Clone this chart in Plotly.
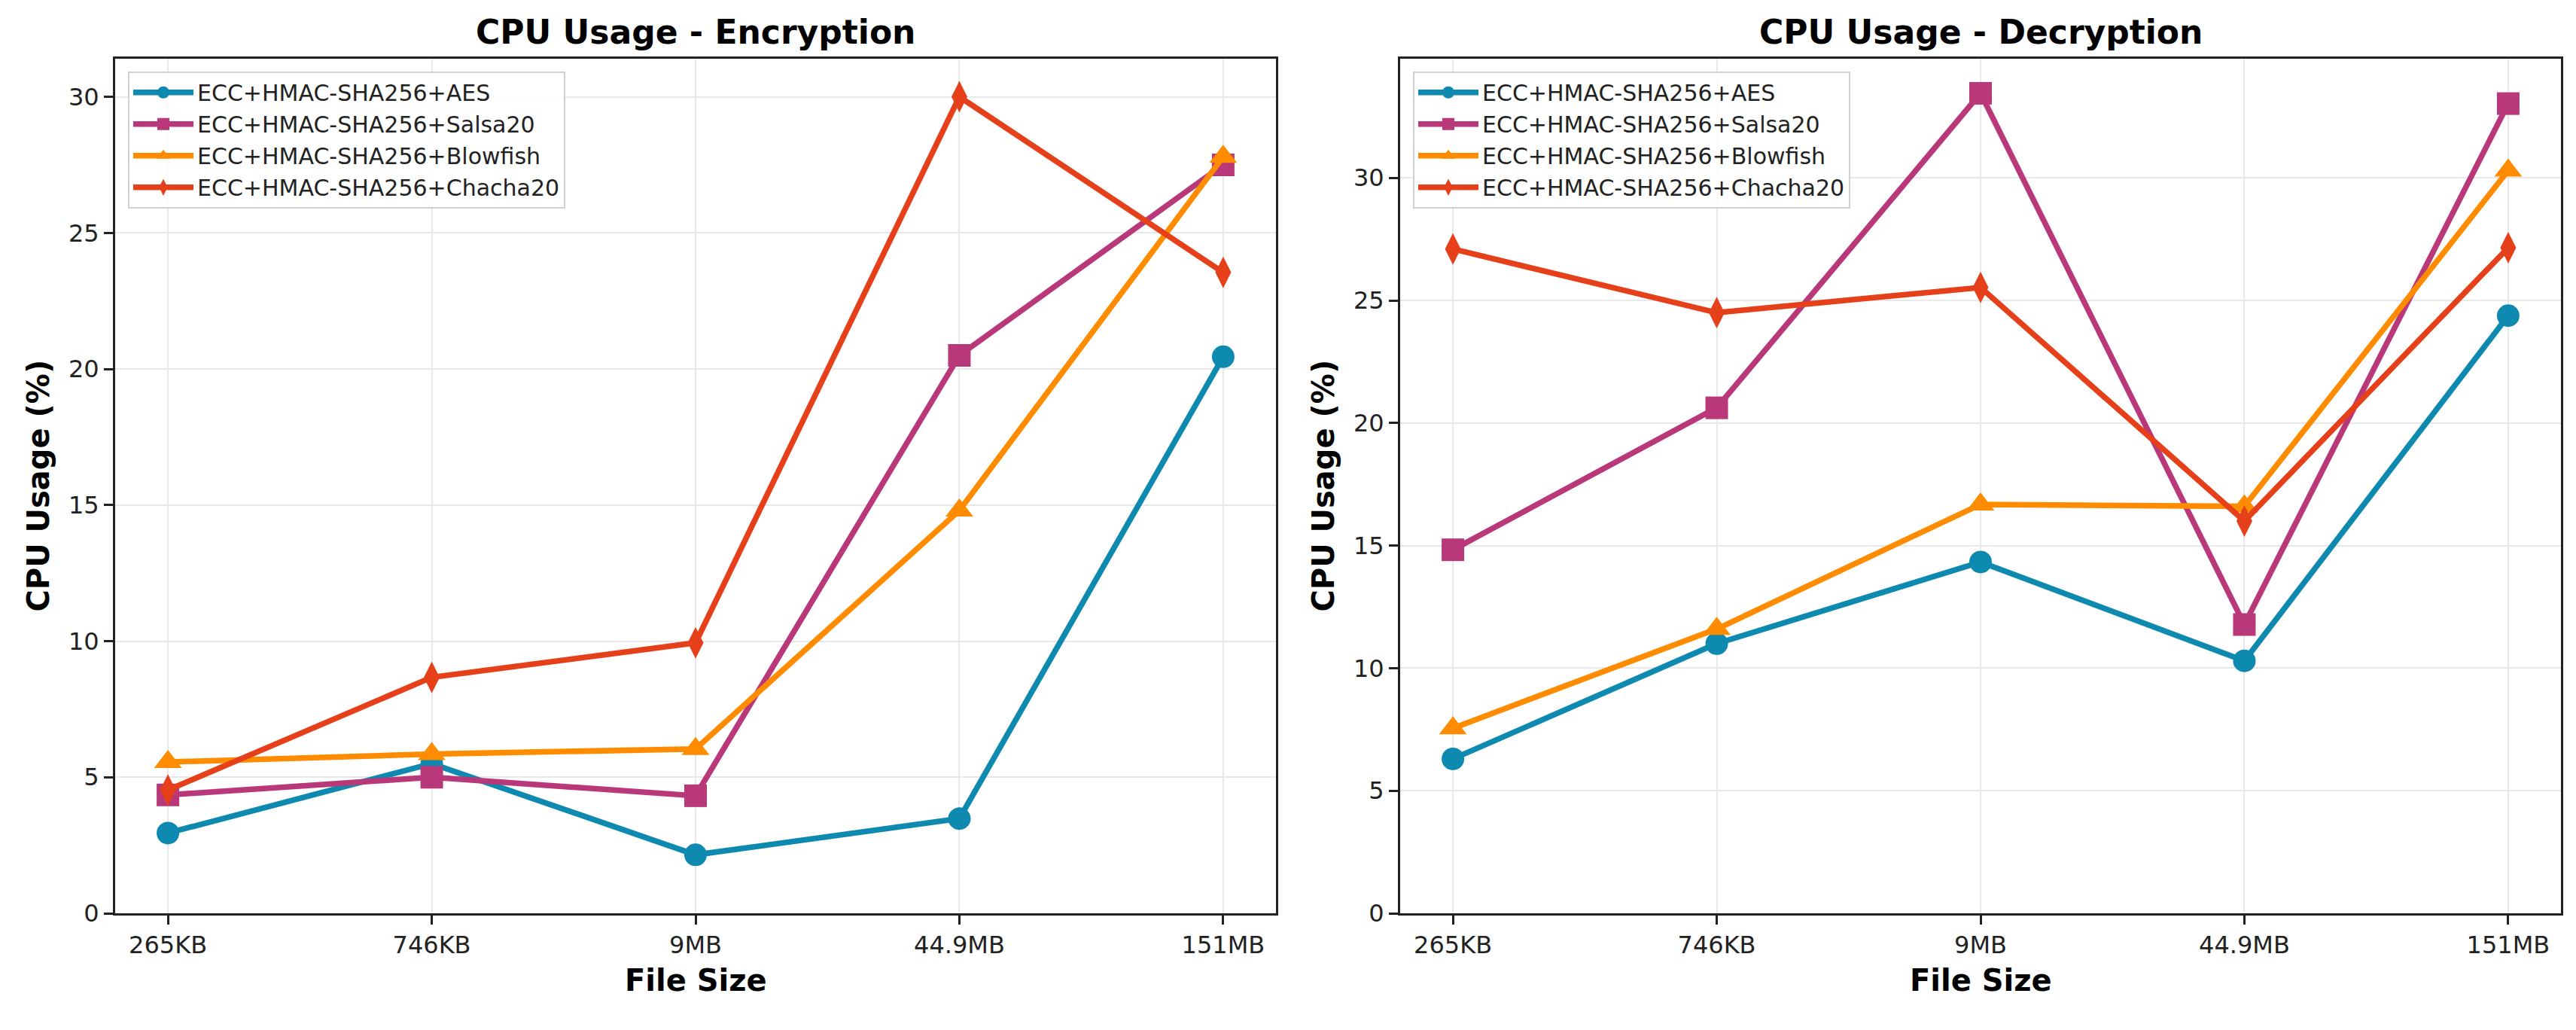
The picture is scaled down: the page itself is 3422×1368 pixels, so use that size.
import plotly.graph_objects as go
from plotly.subplots import make_subplots

W, H = 3422, 1368

file_sizes = ["265KB", "746KB", "9MB", "44.9MB", "151MB"]
methods = [
    "ECC+HMAC-SHA256+AES",
    "ECC+HMAC-SHA256+Salsa20",
    "ECC+HMAC-SHA256+Blowfish",
    "ECC+HMAC-SHA256+Chacha20",
]

# CPU usage (%)
enc_aes = [2.95, 5.5, 2.15, 3.48, 20.45]
enc_salsa = [4.35, 5.0, 4.32, 20.5, 27.5]
enc_blowfish = [5.56, 5.85, 6.04, 14.8, 27.8]
enc_chacha = [4.53, 8.67, 9.94, 30.0, 23.55]

dec_aes = [6.3, 11.0, 14.33, 10.3, 24.38]
dec_salsa = [14.83, 20.62, 33.45, 11.78, 33.03]
dec_blowfish = [7.55, 11.6, 16.68, 16.6, 30.3]
dec_chacha = [27.1, 24.5, 25.53, 16.0, 27.15]

colors = ["#0E89AF", "#B9387A", "#FF8C00", "#E5401A"]
symbols = ["circle", "square", "triangle-up", "diamond-tall"]
msizes = [30, 30, 32, 30]

FONT = "DejaVu Sans"

# pixel layout of the two plot areas
left_x = (145, 1687)
right_x = (1852, 3394)
top_y, bot_y = 71, 1222


def px_x(p):
    return p / W


def px_y(p):
    return 1 - p / H


fig = make_subplots(rows=1, cols=2)

panels = [
    (1, [enc_aes, enc_salsa, enc_blowfish, enc_chacha], "legend"),
    (2, [dec_aes, dec_salsa, dec_blowfish, dec_chacha], "legend2"),
]
for col, series, leg in panels:
    for i, vals in enumerate(series):
        fig.add_trace(
            go.Scatter(
                x=file_sizes,
                y=vals,
                name=methods[i],
                mode="lines+markers",
                line=dict(color=colors[i], width=7.5),
                marker=dict(symbol=symbols[i], size=msizes[i], color=colors[i]),
                legend=leg,
                hoverinfo="skip",
            ),
            row=1,
            col=col,
        )

axis_common = dict(
    showline=True,
    linecolor="#222222",
    linewidth=3,
    mirror=True,
    ticks="outside",
    ticklen=12,
    tickwidth=3,
    tickcolor="#222222",
    showgrid=True,
    gridcolor="#e8e8e8",
    gridwidth=2,
    zeroline=False,
    tickfont=dict(family=FONT, size=32, color="#222222"),
)

fig.update_xaxes(axis_common)
fig.update_yaxes(axis_common)
fig.update_xaxes(range=[-0.2, 4.2], domain=[px_x(left_x[0]), px_x(left_x[1])], row=1, col=1)
fig.update_xaxes(range=[-0.2, 4.2], domain=[px_x(right_x[0]), px_x(right_x[1])], row=1, col=2)
fig.update_yaxes(range=[0, 31.4], dtick=5, domain=[px_y(bot_y), px_y(top_y)], row=1, col=1)
fig.update_yaxes(range=[0, 34.86], dtick=5, domain=[px_y(bot_y), px_y(top_y)], row=1, col=2)

legend_common = dict(
    bgcolor="rgba(255,255,255,0.85)",
    bordercolor="#d0d0d0",
    borderwidth=2,
    font=dict(family=FONT, size=30, color="#222222"),
    xanchor="left",
    yanchor="top",
    itemwidth=80,
    tracegroupgap=0,
)

fig.update_layout(
    width=W,
    height=H,
    margin=dict(l=0, r=0, t=0, b=0),
    paper_bgcolor="white",
    plot_bgcolor="white",
    font=dict(family=FONT),
    legend=dict(legend_common, x=px_x(left_x[0] + 17), y=px_y(top_y + 17)),
    legend2=dict(legend_common, x=px_x(right_x[0] + 17), y=px_y(top_y + 17)),
)

titles = ["CPU Usage - Encryption", "CPU Usage - Decryption"]
for (x0, x1), title in zip([left_x, right_x], titles):
    cx = px_x((x0 + x1) / 2)
    fig.add_annotation(
        text="<b>" + title + "</b>", x=cx, y=px_y(35), xref="paper", yref="paper",
        showarrow=False, xanchor="center", yanchor="middle",
        font=dict(family=FONT, size=44, color="black"),
    )
    fig.add_annotation(
        text="<b>File Size</b>", x=cx, y=px_y(1312), xref="paper", yref="paper",
        showarrow=False, xanchor="center", yanchor="middle",
        font=dict(family=FONT, size=40, color="black"),
    )
    fig.add_annotation(
        text="<b>CPU Usage (%)</b>", x=px_x(x0 - 102), y=px_y((top_y + bot_y) / 2),
        xref="paper", yref="paper", showarrow=False, textangle=-90,
        xanchor="center", yanchor="middle",
        font=dict(family=FONT, size=40, color="black"),
    )

fig.write_html("out.html")
